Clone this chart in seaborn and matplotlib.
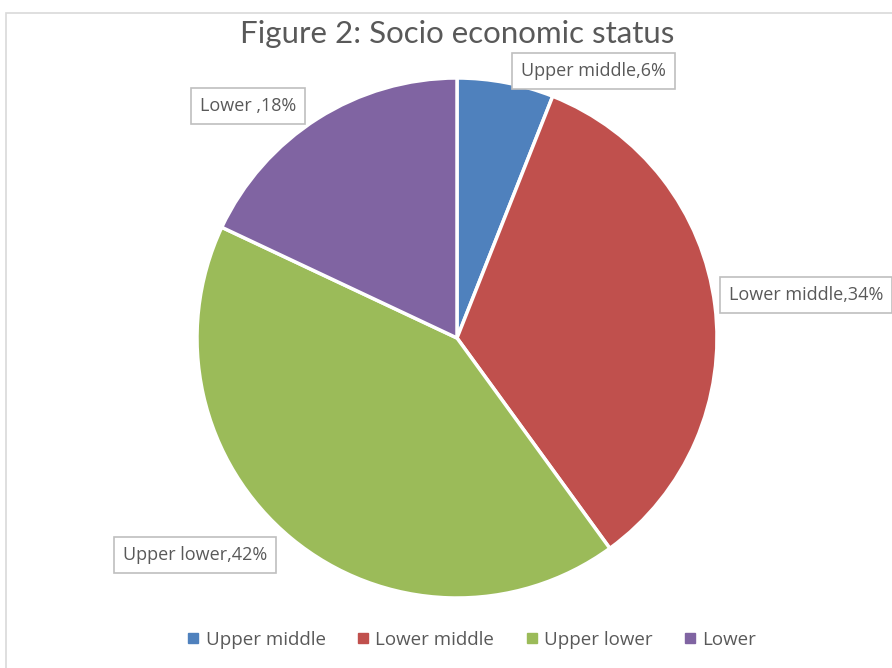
import matplotlib
matplotlib.use("Agg")
import matplotlib.pyplot as plt
from matplotlib.patches import Rectangle
from matplotlib.lines import Line2D
import seaborn as sns

categories = ["Upper middle", "Lower middle", "Upper lower", "Lower"]
shares = [6, 34, 42, 18]
label_texts = ["Upper middle,6%", "Lower middle,34%", "Upper lower,42%", "Lower ,18%"]
colors = ["#4F81BD", "#C0504D", "#9BBB59", "#8064A2"]

sns.set_theme(style="white")
plt.rcParams["font.family"] = ["Open Sans", "DejaVu Sans"]

W, H = 892, 668
fig = plt.figure(figsize=(W / 100, H / 100), dpi=100)
fig.patch.set_facecolor("white")

# light chart-area border
fig.add_artist(Rectangle((6 / W, -0.05), 1.2, (H - 13) / H + 0.05,
                         transform=fig.transFigure, fill=False,
                         edgecolor="#D9D9D9", linewidth=1.2))

cx, cy, r = 457, 338, 260
ax = fig.add_axes([(cx - r) / W, (H - cy - r) / H, 2 * r / W, 2 * r / H])
wedges, _ = ax.pie(shares, colors=colors, startangle=90, counterclock=False,
                   radius=1.0, wedgeprops=dict(edgecolor="white", linewidth=2.5))
ax.set_xlim(-1, 1)
ax.set_ylim(-1, 1)
ax.set_aspect("equal")
ax.axis("off")

box = dict(boxstyle="square,pad=0.5", facecolor="white", edgecolor="#BFBFBF", linewidth=1.2)
positions = [
    ((521 - cx) / r, (cy - 71) / r, "left"),
    ((729 - cx) / r, (cy - 295) / r, "left"),
    ((123 - cx) / r, (cy - 555) / r, "left"),
    ((200 - cx) / r, (cy - 106) / r, "left"),
]
for (x, y, ha), txt in zip(positions, label_texts):
    ax.text(x, y, txt, ha=ha, va="center", fontsize=13, color="#595959",
            bbox=box, clip_on=False)

fig.text(cx / W, 1 - 34 / H, "Figure 2: Socio economic status", ha="center", va="center",
         fontsize=22.5, color="#595959", family=["Lato", "DejaVu Sans"])

handles = [Line2D([0], [0], marker="s", linestyle="none", markersize=6.5,
                  markerfacecolor=c, markeredgecolor=c) for c in colors]
fig.legend(handles, categories, loc="center", bbox_to_anchor=(469 / W, 1 - 640 / H),
           ncol=4, frameon=False, fontsize=13.5, handletextpad=0.05, columnspacing=1.4,
           handlelength=1.2, labelcolor="#595959")

fig.savefig("out.png", dpi=100, facecolor="white")
